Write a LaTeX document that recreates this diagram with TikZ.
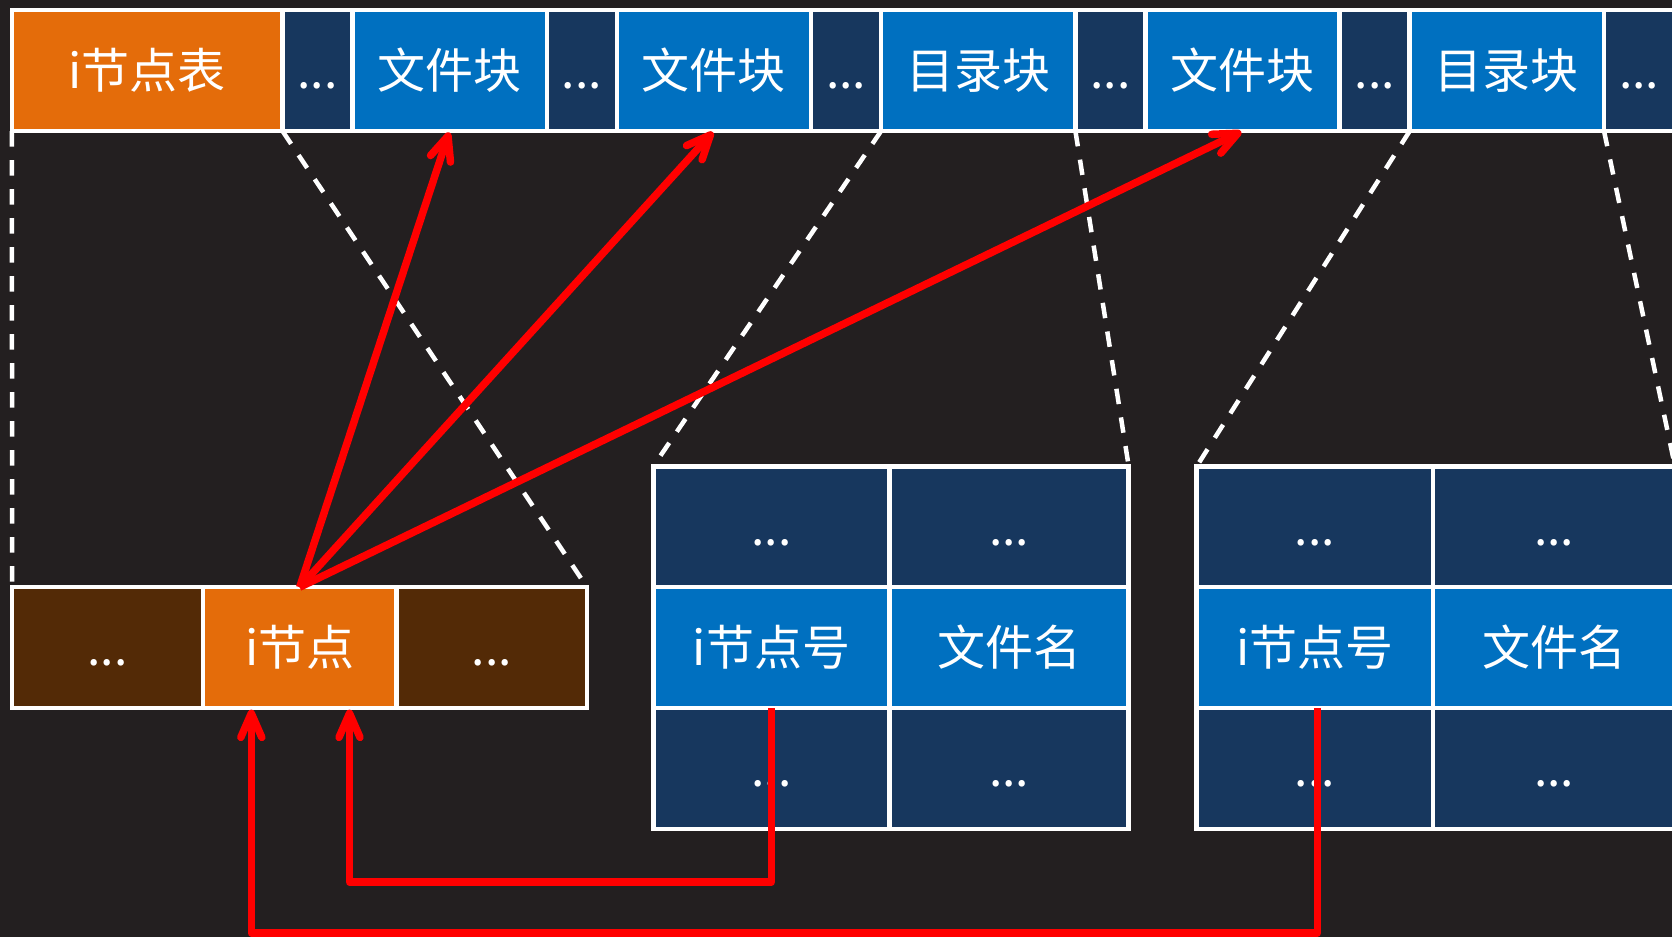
\documentclass[tikz,border=0pt]{standalone}
\usepackage{fontspec}
\setmainfont{Noto Sans CJK SC}
\usetikzlibrary{arrows.meta,positioning,calc}
\definecolor{bgc}{HTML}{231F20}
\definecolor{orangec}{HTML}{E46C0A}
\definecolor{brownc}{HTML}{532A06}
\definecolor{navyc}{HTML}{17375E}
\definecolor{bluec}{HTML}{0070C0}
\definecolor{redc}{HTML}{FF0000}
\begin{document}
\begin{tikzpicture}[x=1pt,y=-1pt,
  cell/.style={draw=white, line width=4.5pt, inner sep=0pt, outer sep=0pt,
    text=white, font=\fontsize{48pt}{58pt}\selectfont,
    text height=40pt, text depth=3.4pt},
  topcell/.style={cell, minimum height=121pt},
  tabcell/.style={cell, minimum height=120.9pt},
  dk/.style={topcell, fill=navyc, minimum width=70pt},
  bk/.style={topcell, fill=bluec, minimum width=194.3pt},
  dsh/.style={draw=white, line width=4.5pt, dash pattern=on 15.5pt off 13.5pt},
  rline/.style={draw=redc, line width=7.5pt, line join=round},
  rarr/.style={rline, -{Straight Barb[length=24pt,width=21pt,round]}, shorten >=1.5pt}
]
\useasboundingbox (0,0) rectangle (1672,937);
\fill[bgc] (0,0) rectangle (1672,937);

% top bar
\node[topcell, fill=orangec, minimum width=270.7pt] (t0) at (147.15,70.5) {i节点表};
\node[dk, right=0pt of t0] (t1) {...};
\node[bk, right=0pt of t1] (t2) {文件块};
\node[dk, right=0pt of t2] (t3) {...};
\node[bk, right=0pt of t3] (t4) {文件块};
\node[dk, right=0pt of t4] (t5) {...};
\node[bk, right=0pt of t5] (t6) {目录块};
\node[dk, right=0pt of t6] (t7) {...};
\node[bk, right=0pt of t7] (t8) {文件块};
\node[dk, right=0pt of t8] (t9) {...};
\node[bk, right=0pt of t9] (t10) {目录块};
\node[dk, right=0pt of t10] (t11) {...};

% i-node table
\node[tabcell, fill=brownc, minimum width=190.6pt] (a1) at (107.5,647.65) {...};
\node[tabcell, fill=orangec, minimum width=193.7pt, right=0pt of a1] (a2) {i节点};
\node[tabcell, fill=brownc, minimum width=190.5pt, right=0pt of a2] (a3) {...};

% middle directory block
\node[tabcell, fill=navyc, minimum width=236.2pt] (m11) at (771.4,526.75) {...};
\node[tabcell, fill=navyc, minimum width=239.2pt, right=0pt of m11] (m12) {...};
\node[tabcell, fill=bluec, minimum width=236.2pt, below=0pt of m11] (m21) {i节点号};
\node[tabcell, fill=bluec, minimum width=239.2pt, right=0pt of m21] (m22) {文件名};
\node[tabcell, fill=navyc, minimum width=236.2pt, below=0pt of m21] (m31) {...};
\node[tabcell, fill=navyc, minimum width=239.2pt, right=0pt of m31] (m32) {...};

% right directory block
\node[tabcell, fill=navyc, minimum width=236.3pt] (r11) at (1314.85,526.75) {...};
\node[tabcell, fill=navyc, minimum width=242pt, right=0pt of r11] (r12) {...};
\node[tabcell, fill=bluec, minimum width=236.3pt, below=0pt of r11] (r21) {i节点号};
\node[tabcell, fill=bluec, minimum width=242pt, right=0pt of r21] (r22) {文件名};
\node[tabcell, fill=navyc, minimum width=236.3pt, below=0pt of r21] (r31) {...};
\node[tabcell, fill=navyc, minimum width=242pt, right=0pt of r31] (r32) {...};

% dashed expansion lines
\draw[dsh] (t0.south west) -- (a1.north west);
\draw[dsh] (t0.south east) -- (a3.north east);
\draw[dsh] (t5.south east) -- (m11.north west);
\draw[dsh] (t6.south east) -- (m12.north east);
\draw[dsh] (t9.south east) -- (r11.north west);
\draw[dsh] (t10.south east) -- (r12.north east);

% i-node pointers to data blocks
\draw[rarr] (a2.north) -- (t2.south);
\draw[rarr] (a2.north) -- (t4.south);
\draw[rarr] (a2.north) -- (t8.south);

% directory entries pointing to the i-node
\coordinate (b1) at ($(a2.south)+(49.85,0)$);
\coordinate (b2) at ($(a2.south)+(-48.35,0)$);
\coordinate (h1) at (0,882);
\coordinate (h2) at (0,933);
\draw[rarr] (m31.north) -- (m31.north |- h1) -| (b1);
\draw[rarr] ($(r31.north)+(2.5,0)$) -- ($(r31.north |- h2)+(2.5,0)$) -| (b2);
\end{tikzpicture}
\end{document}
